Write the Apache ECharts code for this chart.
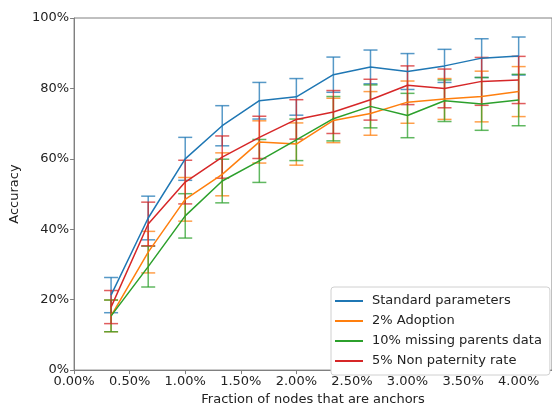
<!DOCTYPE html>
<html>
<head>
<meta charset="utf-8">
<script src="https://cdn.jsdelivr.net/npm/echarts@6/dist/echarts.min.js"></script>
<style>
  html, body { margin: 0; padding: 0; background: #fff; }
  #chart { width: 552px; height: 411px; }
</style>
</head>
<body>
<div id="chart"></div>
<script>
// fraction of nodes that are anchors (%)
var fractions = [0.333, 0.667, 1.0, 1.333, 1.667, 2.0, 2.333, 2.667, 3.0, 3.333, 3.667, 4.0];

var seriesNames = ['Standard parameters', '2% Adoption', '10% missing parents data', '5% Non paternity rate'];
var seriesColors = ['#1f77b4', '#ff7f0e', '#2ca02c', '#d62728'];

// mean accuracy (%)
var standardMean = [21.3, 43.2, 60.0, 69.4, 76.5, 77.6, 83.9, 86.1, 84.8, 86.4, 88.6, 89.2];
var adoptionMean = [15.4, 33.5, 48.5, 55.6, 64.8, 64.2, 70.9, 72.9, 76.1, 77.0, 77.7, 79.1];
var missingMean = [15.4, 29.4, 43.8, 53.7, 59.4, 65.4, 71.4, 74.9, 72.3, 76.5, 75.6, 76.7];
var nonPaternityMean = [17.9, 41.5, 53.4, 60.5, 66.1, 71.2, 73.3, 76.8, 80.9, 80.0, 82.0, 82.4];

// error bar half-heights (%)
var standardErr = [5.0, 6.2, 6.1, 5.7, 5.2, 5.2, 5.0, 4.8, 5.1, 4.7, 5.5, 5.4];
var adoptionErr = [4.5, 5.9, 6.2, 6.1, 6.0, 6.0, 6.3, 6.2, 6.0, 5.8, 7.2, 7.1];
var missingErr = [4.5, 5.8, 6.3, 6.2, 6.1, 5.9, 6.3, 6.1, 6.3, 5.9, 7.5, 7.3];
var nonPaternityErr = [4.7, 6.2, 6.2, 6.0, 6.0, 5.6, 6.1, 5.8, 5.5, 5.5, 6.8, 6.7];

var yTicks = [0, 20, 40, 60, 80, 100];

var means = [standardMean, adoptionMean, missingMean, nonPaternityMean];
var errs = [standardErr, adoptionErr, missingErr, nonPaternityErr];

var font = 'DejaVu Sans';
var axisGray = '#808080';

function errorBarRender(params, api) {
    var x = api.value(0);
    var lo = api.coord([x, api.value(1)]);
    var hi = api.coord([x, api.value(2)]);
    var half = 7;
    var style = { stroke: api.visual('color'), lineWidth: 1.5, opacity: 0.75 };
    return {
        type: 'group',
        children: [
            { type: 'line', shape: { x1: lo[0], y1: lo[1], x2: hi[0], y2: hi[1] }, style: style },
            { type: 'line', shape: { x1: hi[0] - half, y1: hi[1], x2: hi[0] + half, y2: hi[1] }, style: style },
            { type: 'line', shape: { x1: lo[0] - half, y1: lo[1], x2: lo[0] + half, y2: lo[1] }, style: style }
        ]
    };
}

var series = [];
for (var i = 0; i < seriesNames.length; i++) {
    series.push({
        name: seriesNames[i],
        type: 'line',
        data: fractions.map(function (f, k) { return [f, means[i][k]]; }),
        showSymbol: false,
        symbol: 'none',
        lineStyle: { width: 1.5, color: seriesColors[i] },
        itemStyle: { color: seriesColors[i] },
        z: 3
    });
    series.push({
        name: seriesNames[i],
        type: 'custom',
        renderItem: errorBarRender,
        data: fractions.map(function (f, k) { return [f, means[i][k] - errs[i][k], means[i][k] + errs[i][k]]; }),
        itemStyle: { color: seriesColors[i] },
        encode: { x: 0, y: [1, 2] },
        z: 2
    });
}

var chart = echarts.init(document.getElementById('chart'));
chart.setOption({
    animation: false,
    color: seriesColors,
    textStyle: { fontFamily: font },
    grid: {
        left: 66,
        right: -2,
        top: 18,
        bottom: 34,
        show: true,
        borderColor: axisGray,
        borderWidth: 1
    },
    legend: {
        data: seriesNames,
        orient: 'vertical',
        left: 331,
        top: 287,
        icon: 'rect',
        itemWidth: 28,
        itemHeight: 2,
        itemGap: 6,
        padding: [7, 8, 7, 4],
        backgroundColor: '#fff',
        borderColor: '#d0d0d0',
        borderWidth: 1,
        borderRadius: 3,
        textStyle: { fontFamily: font, fontSize: 13, color: '#222', lineHeight: 14, padding: [0, 0, 0, 4] }
    },
    xAxis: {
        type: 'value',
        min: 0,
        max: 4.3,
        interval: 0.5,
        name: 'Fraction of nodes that are anchors',
        nameLocation: 'middle',
        nameGap: 22,
        nameTextStyle: { fontFamily: font, fontSize: 13, color: '#222' },
        axisLine: { show: true, lineStyle: { color: axisGray } },
        axisTick: { show: true, length: 4, lineStyle: { color: axisGray } },
        axisLabel: {
            showMaxLabel: false,
            margin: 5,
            fontFamily: font,
            fontSize: 13,
            color: '#222',
            formatter: function (v) { return v.toFixed(2) + '%'; }
        },
        splitLine: { show: false }
    },
    yAxis: {
        type: 'value',
        min: yTicks[0],
        max: yTicks[yTicks.length - 1],
        interval: 20,
        name: 'Accuracy',
        nameLocation: 'middle',
        nameGap: 45,
        nameTextStyle: { fontFamily: font, fontSize: 13, color: '#222' },
        axisLine: { show: true, lineStyle: { color: axisGray } },
        axisTick: { show: true, length: 4, lineStyle: { color: axisGray } },
        axisLabel: {
            margin: 5,
            fontFamily: font,
            fontSize: 13,
            color: '#222',
            formatter: '{value}%'
        },
        splitLine: { show: false }
    },
    series: series
});
</script>
</body>
</html>
